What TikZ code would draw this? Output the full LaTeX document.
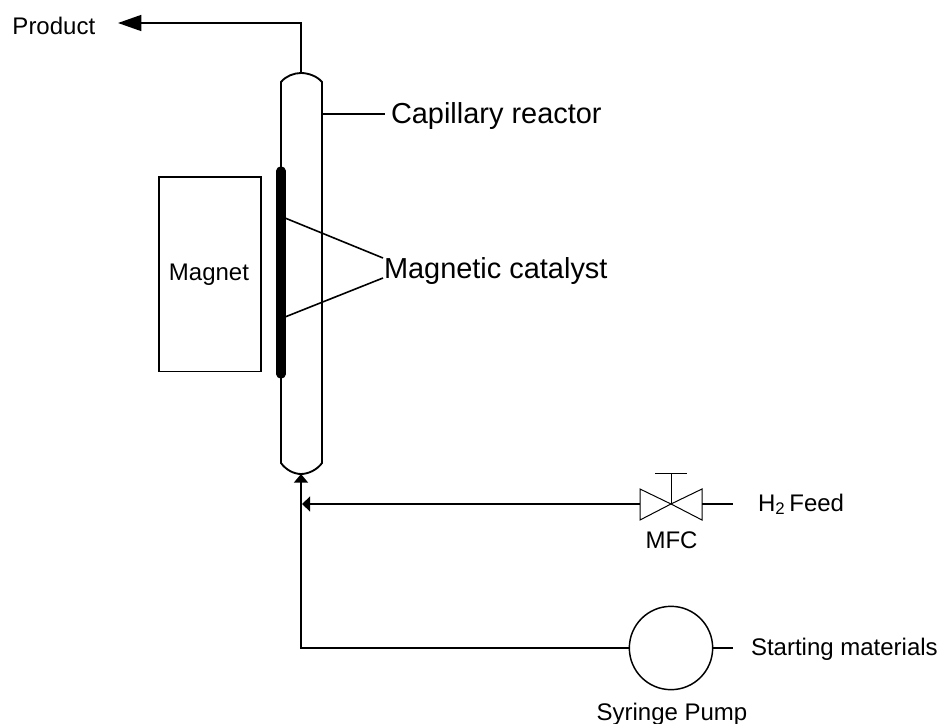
\documentclass[tikz,border=0pt]{standalone}
\usepackage{fontspec}
\setmainfont{Liberation Sans}
\usetikzlibrary{arrows.meta}
\tikzset{
  px/.style={x=0.75pt,y=-0.75pt},
  thinline/.style={draw=black,line width=0.75pt},
  medline/.style={draw=black,line width=1.2pt},
  tubeline/.style={draw=black,line width=1.4pt},
  lbl/.style={inner sep=0pt,outer sep=0pt,font=\fontsize{18}{20}\selectfont,anchor=base west},
  biglbl/.style={inner sep=0pt,outer sep=0pt,font=\fontsize{21.7}{24}\selectfont,anchor=base west},
  tipbig/.style={-{Triangle[length=17.5pt,width=12pt]}},
  tipsmall/.style={-{Triangle[length=6.5pt,width=10.5pt]}},
  tipmid/.style={-{Triangle[length=6pt,width=11pt]}},
}
\begin{document}
\begin{tikzpicture}[px]
\useasboundingbox (0,0) rectangle (940,724);
% anchors
\coordinate (tubetop) at (301,73);
\coordinate (tubebot) at (301,474);
\coordinate (prodcorner) at (301,23);
\coordinate (prodtip) at (118,23);
\coordinate (join) at (301,504);
\coordinate (pumpcorner) at (301,648);
\coordinate (h2end) at (733,504);
\coordinate (smend) at (733,648);
\coordinate (capA) at (322,114);
\coordinate (capB) at (385,114);
\coordinate (catApex1) at (383,258);
\coordinate (catApex2) at (383,278);
\coordinate (catTop) at (285,218);
\coordinate (catBot) at (285,317);
\coordinate (valveL) at (640,504);
\coordinate (valveR) at (702,504);
\coordinate (valveC) at (671,504);
\coordinate (stemTop) at (671,473);
\coordinate (barL) at (655,473);
\coordinate (barR) at (687,473);
% tube
\draw[tubeline] (281,82) .. controls (286,76) and (294,73) .. (301,73) .. controls (308,73) and (317,76) .. (322,82) -- (322,463)
  .. controls (317,470) and (308,474) .. (301,474) .. controls (294,474) and (286,470) .. (281,463) -- cycle;
% catalyst bar
\draw[draw=black,line width=7pt,line cap=round] (281,171) -- (281,374);
% magnet
\node[draw=black,line width=1.2pt,minimum width=76.5pt,minimum height=146pt,inner sep=0pt,anchor=north west] (magnet) at (158,176) {};
\node[lbl,anchor=base] (magnettext) at (209,280) {Magnet};
% pump
\node[draw=black,line width=1.1pt,circle,minimum size=62.5pt,inner sep=0pt] (pump) at (671,648) {};
% product
\draw[medline,tipbig] (tubetop) -- (prodcorner) -- (prodtip);
\node[lbl] (product) at (12.5,35) {Product};
% capillary label
\draw[medline] (capA) -- (capB);
\node[biglbl] (capillary) at (391,124) {Capillary reactor};
% catalyst label
\draw[medline] (catTop) -- (catApex1);
\draw[medline] (catBot) -- (catApex2);
\node[biglbl] (catalyst) at (384,278) {Magnetic catalyst};
% valve
\draw[thinline] (valveC) -- (valveL |- 0,489) -- (valveL |- 0,520) -- cycle;
\draw[thinline] (valveC) -- (valveR |- 0,489) -- (valveR |- 0,520) -- cycle;
\draw[thinline] (valveC) -- (stemTop);
\draw[thinline] (barL) -- (barR);
% feeds
\draw[medline] (valveR) -- (h2end);
\draw[medline,tipmid] (valveL) -- (302,504);
\draw[medline] (pump.west) -- (pumpcorner) -- (join);
\draw[medline,tipsmall] (join) -- (tubebot);
\draw[medline] (pump.east) -- (smend);
% labels
\node[lbl] (h2) at (758,511) {H\textsubscript{2}\,Feed};
\node[lbl,anchor=base] (mfc) at (671.5,548) {MFC};
\node[lbl] (sm) at (751,655) {Starting materials};
\node[lbl,anchor=base] (sp) at (672,720) {Syringe Pump};
\end{tikzpicture}
\end{document}
